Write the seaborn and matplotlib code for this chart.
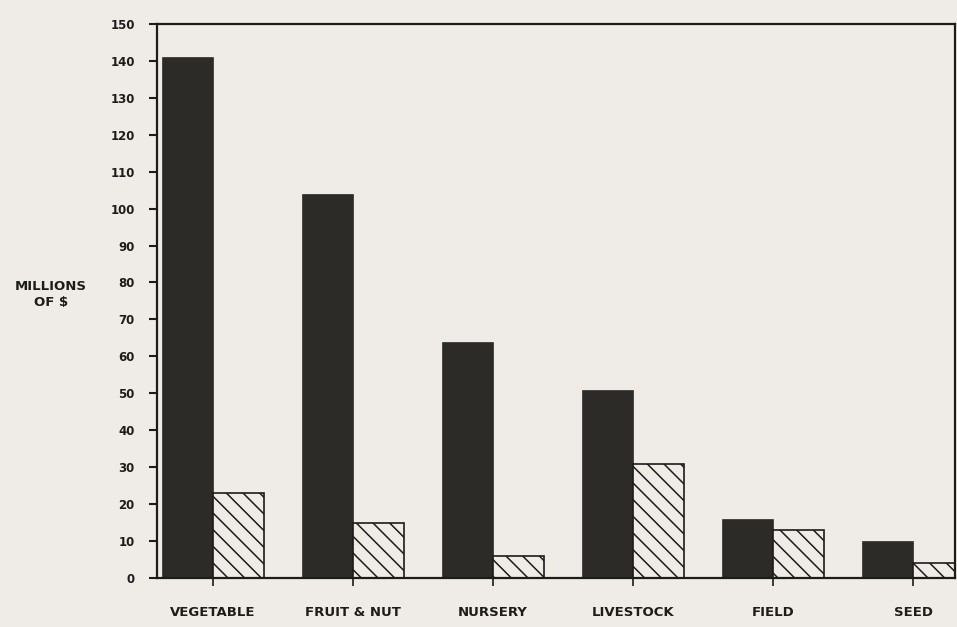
import matplotlib
matplotlib.use("Agg")
import matplotlib.pyplot as plt
import pandas as pd
import seaborn as sns

categories = ["VEGETABLE", "FRUIT & NUT", "NURSERY", "LIVESTOCK", "FIELD", "SEED"]
solid_values = [141, 104, 64, 51, 16, 10]
hatched_values = [23, 15, 6, 31, 13, 4]
series_names = ["solid", "hatched"]

df = pd.DataFrame({
    "category": categories * 2,
    "series": [series_names[0]] * len(categories) + [series_names[1]] * len(categories),
    "value": solid_values + hatched_values,
})

sns.set_style("white")
plt.rcParams["font.family"] = ["DejaVu Sans"]
plt.rcParams["hatch.linewidth"] = 1.1

paper = "#efece8"
ink = "#2d2b28"
line = "#1e1c1a"

fig = plt.figure(figsize=(9.57, 6.27), dpi=100, facecolor=paper)
ax = fig.add_axes([0.164, 0.078, 0.834, 0.884])
ax.set_facecolor(paper)

sns.barplot(data=df, x="category", y="value", hue="series", order=categories,
            hue_order=series_names, palette=[ink, paper], width=0.73,
            saturation=1, legend=False, ax=ax)

n = len(categories)
for i, patch in enumerate(ax.patches[:2 * n]):
    if i < n:
        patch.set_edgecolor(ink)
        patch.set_linewidth(0.5)
    else:
        patch.set_hatch("\\\\")
        patch.set_edgecolor(line)
        patch.set_linewidth(1.2)

ax.set_ylim(0, 150)
ax.set_xlim(-0.40, 5.30)
ax.set_yticks(range(0, 151, 10))
ax.set_xlabel("")
ax.set_ylabel("")

for side in ["left", "top", "right", "bottom"]:
    ax.spines[side].set_visible(True)
    ax.spines[side].set_color(line)
    ax.spines[side].set_linewidth(1.6)

ax.tick_params(axis="y", direction="out", length=6, width=1.5, color=line,
               labelsize=8.5, labelcolor=line, pad=10, left=True)
ax.tick_params(axis="x", direction="out", length=6, width=1.2, color=line,
               labelsize=9.5, labelcolor=line, pad=14, bottom=True)
for lab in ax.get_xticklabels() + ax.get_yticklabels():
    lab.set_fontweight("bold")

fig.text(0.053, 0.53, "MILLIONS\nOF $", ha="center", va="center",
         fontsize=9.5, fontweight="bold", color=line, linespacing=1.35)

fig.savefig("out.png", dpi=100, facecolor=paper)
